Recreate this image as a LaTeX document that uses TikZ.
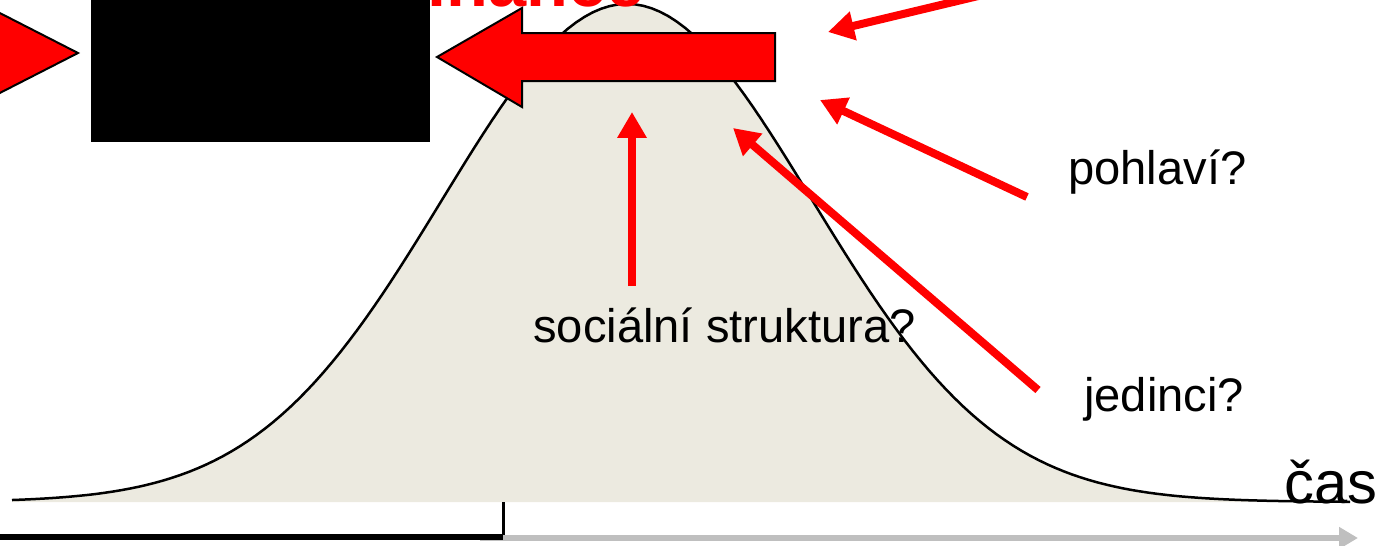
\documentclass[tikz,border=0pt]{standalone}
\usepackage{fontspec}
\setmainfont{Liberation Sans}
\usetikzlibrary{arrows.meta, % for arrow heads
                positioning}
\definecolor{bellfill}{RGB}{236,234,224}
\definecolor{axisgray}{RGB}{191,191,191}

\begin{document}
\begin{tikzpicture}[x=0.02cm, y=-0.02cm,
    qtext/.style={inner sep=0, anchor=base west, font=\fontsize{26.8}{31}\selectfont},
    redarrow/.style={red, line width=0.16cm, -{Triangle[length=0.52cm, width=0.56cm]}},
    blockarrow/.style={draw=black, line width=0.04cm, fill=red}
    ]
    \clip (0,0) rectangle (1390,545);

    %bell curve
    \fill[bellfill] (12,502) -- plot[domain=12:1350, samples=160] (\x, {502-498*exp(-((\x-627)/185)^2/2)}) -- (1350,502) -- cycle;
    \draw[line width=0.05cm] plot[domain=12:1350, samples=160] (\x, {502-498*exp(-((\x-627)/185)^2/2)});

    %title, mostly hidden by the box
    \node[text=red, font=\fontsize{39}{44}\selectfont\bfseries, anchor=base east, inner sep=0] (title) at (645,6) {dominance};

    %black box and block arrows
    \fill[black] (91,-5) rectangle (430,142);
    \filldraw[blockarrow] (-10,8) -- (78,53) -- (-10,98) -- cycle;
    \filldraw[blockarrow] (775,33) -- (522,33) -- (522,8) -- (437,57)
        -- (522,107) -- (522,81) -- (775,81) -- cycle;

    %labels
    \node[qtext] (social) at (533,342) {sociální struktura?};
    \node[qtext] (sex) at (1068,184) {pohlaví?};
    \node[qtext] (indiv) at (1084,411) {jedinci?};
    \node[qtext, font=\fontsize{34}{39}\selectfont] (time) at (1284,503) {čas};

    %red arrows
    \coordinate (topTail) at (1020,-14);
    \coordinate (topTip) at (828,32);
    \coordinate (sexTail) at (1027,197);
    \coordinate (sexTip) at (820,100);
    \coordinate (indivTail) at (1038,390);
    \coordinate (indivTip) at (733,128);
    \coordinate (socialTail) at (632,286);
    \coordinate (socialTip) at (632,112);
    \draw[redarrow] (topTail) -- (topTip);
    \draw[redarrow] (sexTail) -- (sexTip);
    \draw[redarrow] (indivTail) -- (indivTip);
    \draw[redarrow] (socialTail) -- (socialTip);

    %time axis
    \coordinate (axisStart) at (0,537);
    \coordinate (tick) at (503,537);
    \coordinate (axisEnd) at (1358,538);
    \draw[axisgray, line width=0.12cm, -{Triangle[length=0.38cm, width=0.42cm]}] (480,538) -- (axisEnd);
    \draw[line width=0.12cm] (axisStart) -- (tick);
    \draw[line width=0.06cm] (503,502) -- (503,535);
\end{tikzpicture}
\end{document}
